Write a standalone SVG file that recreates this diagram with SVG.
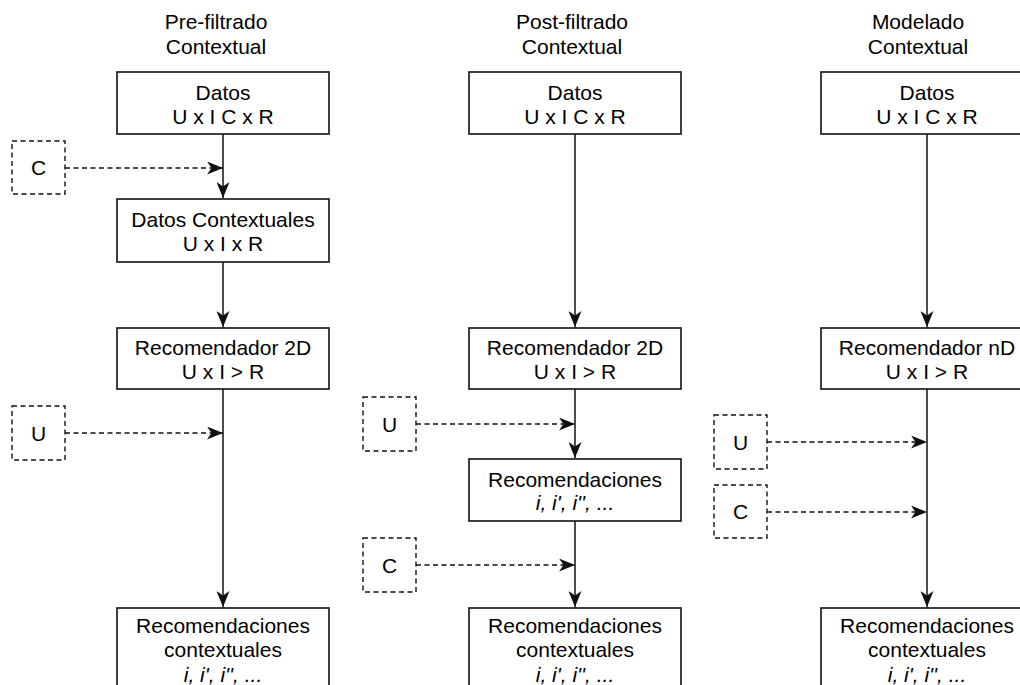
<svg xmlns="http://www.w3.org/2000/svg" width="1020" height="685" viewBox="0 0 1020 685">
  <style>
    text { font-family: "Liberation Sans", Arial, Helvetica, sans-serif; font-size: 21px; fill: #000; text-anchor: middle; }
    .it { font-style: italic; }
    .box { fill: #fff; stroke: #111; stroke-width: 1.6; }
    .ctx { fill: #fff; stroke: #111; stroke-width: 1.4; stroke-dasharray: 5 3.5; }
    .flow { fill: none; stroke: #111; stroke-width: 1.5; marker-end: url(#arrow); }
    .feed { fill: none; stroke: #111; stroke-width: 1.4; stroke-dasharray: 5 3.5; marker-end: url(#arrow); }
  </style>
  <defs>
    <marker id="arrow" markerUnits="userSpaceOnUse" markerWidth="16" markerHeight="13" refX="16" refY="6.5" orient="auto">
      <path d="M0,0 L16,6.5 L0,13 L4.5,6.5 Z" fill="#111"/>
    </marker>
  </defs>
  <rect width="1020" height="685" fill="#fff"/>

  <!-- column headings -->
  <g id="titles">
    <text x="216" y="29">Pre-filtrado</text>
    <text x="216" y="54">Contextual</text>
    <text x="572" y="29">Post-filtrado</text>
    <text x="572" y="54">Contextual</text>
    <text x="918" y="29">Modelado</text>
    <text x="918" y="54">Contextual</text>
  </g>

  <!-- connectors -->
  <g id="connectors">
    <!-- pre-filtering -->
    <line class="flow" x1="223" y1="134" x2="223" y2="198"/>
    <line class="flow" x1="223" y1="262" x2="223" y2="327"/>
    <line class="flow" x1="223" y1="389" x2="223" y2="607"/>
    <line class="feed" x1="65" y1="168" x2="223" y2="168"/>
    <line class="feed" x1="65" y1="433" x2="223" y2="433"/>
    <!-- post-filtering -->
    <line class="flow" x1="575" y1="134" x2="575" y2="327"/>
    <line class="flow" x1="575" y1="389" x2="575" y2="458"/>
    <line class="flow" x1="575" y1="521" x2="575" y2="607"/>
    <line class="feed" x1="416" y1="424" x2="575" y2="424"/>
    <line class="feed" x1="416" y1="565" x2="575" y2="565"/>
    <!-- contextual modelling -->
    <line class="flow" x1="927" y1="134" x2="927" y2="327"/>
    <line class="flow" x1="927" y1="389" x2="927" y2="607"/>
    <line class="feed" x1="767" y1="442" x2="927" y2="442"/>
    <line class="feed" x1="767" y1="512" x2="927" y2="512"/>
  </g>

  <!-- pre-filtering column -->
  <g id="pre-datos">
    <rect class="box" x="117" y="72" width="212" height="62"/>
    <text x="223" y="100">Datos</text>
    <text x="223" y="124">U x I C x R</text>
  </g>
  <g id="pre-c">
    <rect class="ctx" x="12" y="141" width="53" height="53"/>
    <text x="38.5" y="175">C</text>
  </g>
  <g id="pre-datos-contextuales">
    <rect class="box" x="117" y="199" width="212" height="63"/>
    <text x="223" y="227">Datos Contextuales</text>
    <text x="223" y="251">U x I x R</text>
  </g>
  <g id="pre-recomendador">
    <rect class="box" x="117" y="328" width="212" height="61"/>
    <text x="223" y="355">Recomendador 2D</text>
    <text x="223" y="379">U x I &gt; R</text>
  </g>
  <g id="pre-u">
    <rect class="ctx" x="12" y="406" width="53" height="54"/>
    <text x="38.5" y="440.5">U</text>
  </g>
  <g id="pre-resultado">
    <rect class="box" x="117" y="608" width="212" height="100"/>
    <text x="223" y="633">Recomendaciones</text>
    <text x="223" y="657">contextuales</text>
    <text class="it" x="223" y="682">i, i', i'', ...</text>
  </g>

  <!-- post-filtering column -->
  <g id="post-datos">
    <rect class="box" x="469" y="72" width="212" height="62"/>
    <text x="575" y="100">Datos</text>
    <text x="575" y="124">U x I C x R</text>
  </g>
  <g id="post-recomendador">
    <rect class="box" x="469" y="328" width="212" height="61"/>
    <text x="575" y="355">Recomendador 2D</text>
    <text x="575" y="379">U x I &gt; R</text>
  </g>
  <g id="post-u">
    <rect class="ctx" x="363" y="397" width="53" height="54"/>
    <text x="389.5" y="431.5">U</text>
  </g>
  <g id="post-recomendaciones">
    <rect class="box" x="469" y="459" width="212" height="62"/>
    <text x="575" y="487">Recomendaciones</text>
    <text class="it" x="575" y="510">i, i', i'', ...</text>
  </g>
  <g id="post-c">
    <rect class="ctx" x="363" y="538" width="53" height="54"/>
    <text x="389.5" y="572.5">C</text>
  </g>
  <g id="post-resultado">
    <rect class="box" x="469" y="608" width="212" height="100"/>
    <text x="575" y="633">Recomendaciones</text>
    <text x="575" y="657">contextuales</text>
    <text class="it" x="575" y="682">i, i', i'', ...</text>
  </g>

  <!-- contextual modelling column -->
  <g id="mod-datos">
    <rect class="box" x="821" y="72" width="212" height="62"/>
    <text x="927" y="100">Datos</text>
    <text x="927" y="124">U x I C x R</text>
  </g>
  <g id="mod-recomendador">
    <rect class="box" x="821" y="328" width="212" height="61"/>
    <text x="927" y="355">Recomendador nD</text>
    <text x="927" y="379">U x I &gt; R</text>
  </g>
  <g id="mod-u">
    <rect class="ctx" x="714" y="415" width="53" height="54"/>
    <text x="740.5" y="449.5">U</text>
  </g>
  <g id="mod-c">
    <rect class="ctx" x="714" y="485" width="53" height="53"/>
    <text x="740.5" y="519">C</text>
  </g>
  <g id="mod-resultado">
    <rect class="box" x="821" y="608" width="212" height="100"/>
    <text x="927" y="633">Recomendaciones</text>
    <text x="927" y="657">contextuales</text>
    <text class="it" x="927" y="682">i, i', i'', ...</text>
  </g>
</svg>
